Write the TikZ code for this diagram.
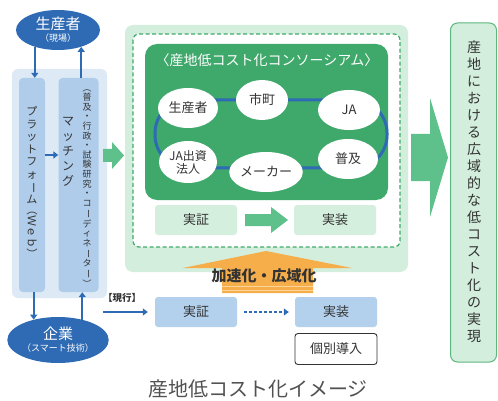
\documentclass[tikz,border=0pt]{standalone}
\usepackage{fontspec}
\setmainfont{Noto Sans CJK JP}
\usepackage{graphicx}
\usetikzlibrary{shapes.geometric,arrows.meta}
\definecolor{cBlue}{HTML}{2E6BB4}
\definecolor{cBlueBg}{HTML}{DDEAF6}
\definecolor{cBlueCol}{HTML}{AFCCEA}
\definecolor{cBlueBox}{HTML}{B3D0EC}
\definecolor{cGreenBg}{HTML}{D3EEDC}
\definecolor{cGreenDk}{HTML}{3FA96B}
\definecolor{cGreenAr}{HTML}{5EC08B}
\definecolor{cGreenBox}{HTML}{D5EFDE}
\definecolor{cGreenLine}{HTML}{5CB87F}
\definecolor{cOrange}{HTML}{F6AE4A}
\definecolor{cOrangeLt}{HTML}{FBD49A}
\definecolor{cText}{HTML}{333333}
\newcommand{\jfs}[2]{\fontsize{#1}{#2}\selectfont}
\newcommand{\rv}[1]{\rotatebox[origin=c]{-90}{#1}}
\begin{document}
\begin{tikzpicture}[x=1pt,y=-1pt,
  darkell/.style={ellipse, fill=cBlue, text=white, inner sep=0pt, align=center},
  whiteell/.style={ellipse, fill=white, inner sep=0pt, minimum width=60pt, minimum height=40pt, align=center, font=\jfs{13}{14}, text=cText},
  colbox/.style={rectangle, rounded corners=4pt, fill=cBlueCol, minimum height=214pt},
  barrow/.style={-{Triangle[length=5pt,width=7pt]}, draw=cBlue, line width=1.6pt},
  gbox/.style={rectangle, rounded corners=3pt, fill=cGreenBox, minimum width=82pt, minimum height=30pt, font=\jfs{13}{14}, text=cText},
  bbox/.style={rectangle, rounded corners=3pt, fill=cBlueBox, minimum width=82pt, minimum height=30pt, font=\jfs{13}{14}, text=cText},
  vstack/.style={align=center, inner sep=0pt, text=cText}
]
\useasboundingbox (0,0) rectangle (498,401);
\fill[white] (0,0) rectangle (498,401);

% ---------- left: platform ----------
\fill[cBlueBg, rounded corners=6pt] (12,69) rectangle (107,298);
\node[colbox, minimum width=26pt] (lcol) at (32,185) {};
\node[colbox, minimum width=40pt] (rcol) at (78.5,185) {};
\node[vstack, font=\jfs{11}{12.5}] (ltxt) at (32,183)
  {プ\\ラ\\ッ\\ト\\フ\\ォ\\\rv{ー}\\ム\\\rv{（Ｗｅｂ）}};
\node[vstack, font=\jfs{12}{15}] (match) at (68,152)
  {マ\\ッ\\チ\\ン\\グ};
\node[vstack, font=\jfs{9}{9.6}] (coord) at (87,186)
  {\rv{（}\\普\\及\\・\\行\\政\\・\\試\\験\\研\\究\\・\\コ\\\rv{ー}\\デ\\ィ\\ネ\\\rv{ー}\\タ\\\rv{ー}\\\rv{）}};
\coordinate (midy) at (0,155);
\draw[barrow, line width=2.5pt] (lcol.east |- midy) -- (rcol.west |- midy);

\node[darkell, minimum width=84pt, minimum height=40pt] (prod) at (58,30)
  {{\jfs{15}{15}生産者}\\{\jfs{9}{10}（現場）}};
\node[darkell, minimum width=85pt, minimum height=46pt] (ent) at (58,340)
  {{\jfs{15}{15}企業}\\{\jfs{9}{10}（スマート技術）}};
\draw[barrow] (prod.-144) -- (prod.-144 |- lcol.north);
\draw[barrow] (prod.-36 |- rcol.north) -- (prod.-36);
\draw[barrow] (ent.140 |- lcol.south) -- (ent.140);
\draw[barrow] (ent.40) -- (ent.40 |- rcol.south);

% green arrow into consortium
\fill[cGreenAr] (103,149)--(112,149)--(112,142)--(124,155.5)--(112,169)--(112,162)--(103,162)--cycle;

% ---------- consortium panel ----------
\fill[cGreenBg, rounded corners=8pt] (125,25) rectangle (408,272);
\draw[cGreenDk, line width=1.2pt, dash pattern=on 4pt off 2.5pt, fill=white, rounded corners=6pt] (133,34) rectangle (400,247);
\fill[cGreenDk, rounded corners=12pt] (145,44) rectangle (388,200);
\node[text=white, font=\jfs{14}{15}, inner sep=0pt] (ttl) at (267,60) {〈産地低コスト化コンソーシアム〉};
\draw[cBlue, line width=3pt, rounded corners=33pt] (155,100) rectangle (387,168);
\node[whiteell] (sei) at (188,108) {生産者};
\node[whiteell, minimum width=52pt] (shi) at (262,100) {市町};
\node[whiteell, minimum width=62pt] (ja) at (349,110) {JA};
\node[whiteell, minimum width=58pt, minimum height=42pt, font=\jfs{12}{13}] (jas) at (188,162) {JA出資\\法人};
\node[whiteell] (mak) at (266,172) {メーカー};
\node[whiteell] (fuk) at (348,159) {普及};

\node[gbox] (g1) at (196,220) {実証};
\node[gbox] (g2) at (335,220) {実装};
\fill[cGreenAr] (245,214)--(271,214)--(271,207)--(288,220)--(271,233)--(271,226)--(245,226)--cycle;

% orange arrow
\fill[cOrange] (266,251)--(352,268)--(313,268)--(313,293)--(222,293)--(222,268)--(183,268)--cycle;
\draw[cOrangeLt, line width=0.8pt] (222,286.5) -- (313,286.5);
\draw[cOrangeLt, line width=0.8pt] (222,290) -- (313,290);
\node[font=\bfseries\jfs{15}{16}, text=cText, inner sep=0pt] (acc) at (264,276) {加速化・広域化};

% big right arrow
\fill[cGreenAr] (411,134)--(430,134)--(430,98)--(448,157.5)--(430,217)--(430,181)--(411,181)--cycle;

% result box
\draw[cGreenLine, fill=cGreenBg, line width=1pt, rounded corners=7pt] (450.5,23) rectangle (496.5,362);
\node[vstack, font=\jfs{14}{17}] (res) at (474,192)
  {産\\地\\に\\お\\け\\る\\広\\域\\的\\な\\低\\コ\\ス\\ト\\化\\の\\実\\現};

% ---------- current ----------
\node[bbox] (v1) at (196,312) {実証};
\node[bbox] (v2) at (336,312) {実装};
\node[rectangle, rounded corners=3pt, draw=cText, line width=0.9pt, fill=white, minimum width=82pt, minimum height=31pt, font=\jfs{13}{14}, text=cText] (ind) at (336,349) {個別導入};
\coordinate (gen) at (103,312);
\node[font=\bfseries\jfs{9.5}{10}, text=cText, inner sep=0pt] (genl) at (122,298) {【現行】};
\draw[barrow, line width=1.2pt, shorten >=7pt] (gen) -- (v1.west);
\draw[barrow, line width=1.2pt, dash pattern=on 3pt off 2pt, shorten <=7pt, shorten >=6pt] (v1.east) -- (v2.west);

% caption
\node[font=\jfs{20}{21}, text=cText!85, inner sep=0pt] (cap) at (258,389) {産地低コスト化イメージ};
\end{tikzpicture}
\end{document}
